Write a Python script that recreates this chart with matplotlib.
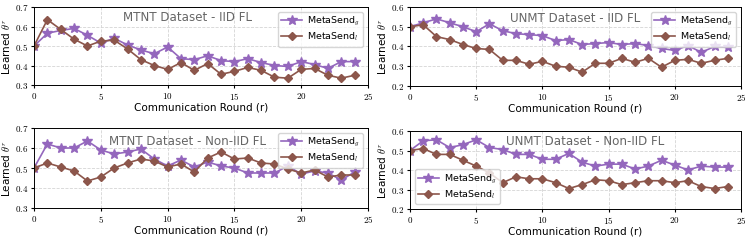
import matplotlib
matplotlib.use('agg')
import matplotlib.pyplot as plt
import numpy as np
from matplotlib.ticker import FuncFormatter

plt.rcParams['mathtext.fontset'] = 'cm'

rounds = np.arange(25)

mtnt_iid_g = [0.50, 0.565, 0.58, 0.59, 0.555, 0.515, 0.54, 0.505, 0.48, 0.46, 0.495, 0.435, 0.43,
              0.45, 0.425, 0.42, 0.435, 0.415, 0.40, 0.395, 0.42, 0.405, 0.385, 0.42, 0.42]
mtnt_iid_l = [0.50, 0.635, 0.585, 0.535, 0.50, 0.525, 0.53, 0.485, 0.43, 0.40, 0.38, 0.415, 0.375,
              0.41, 0.355, 0.37, 0.39, 0.375, 0.34, 0.335, 0.38, 0.385, 0.35, 0.335, 0.35]

unmt_iid_g = [0.50, 0.52, 0.54, 0.52, 0.50, 0.475, 0.515, 0.48, 0.465, 0.46, 0.455, 0.43, 0.435,
              0.41, 0.415, 0.42, 0.41, 0.415, 0.405, 0.39, 0.38, 0.405, 0.37, 0.40, 0.395]
unmt_iid_l = [0.50, 0.51, 0.45, 0.435, 0.41, 0.39, 0.385, 0.33, 0.33, 0.31, 0.325, 0.30, 0.295,
              0.27, 0.315, 0.315, 0.34, 0.32, 0.34, 0.295, 0.33, 0.335, 0.315, 0.33, 0.34]

mtnt_non_g = [0.50, 0.62, 0.60, 0.60, 0.635, 0.59, 0.57, 0.58, 0.595, 0.545, 0.51, 0.54, 0.505,
              0.53, 0.51, 0.50, 0.475, 0.475, 0.475, 0.51, 0.47, 0.485, 0.475, 0.44, 0.48]
mtnt_non_l = [0.50, 0.525, 0.505, 0.485, 0.435, 0.455, 0.50, 0.525, 0.545, 0.535, 0.505, 0.52, 0.48,
              0.55, 0.58, 0.545, 0.55, 0.525, 0.52, 0.495, 0.475, 0.49, 0.455, 0.465, 0.465]

unmt_non_g = [0.50, 0.55, 0.555, 0.515, 0.53, 0.555, 0.515, 0.505, 0.48, 0.48, 0.455, 0.455, 0.485,
              0.44, 0.42, 0.43, 0.43, 0.405, 0.42, 0.45, 0.425, 0.40, 0.42, 0.415, 0.415]
unmt_non_l = [0.50, 0.51, 0.48, 0.48, 0.45, 0.42, 0.385, 0.335, 0.365, 0.355, 0.355, 0.335, 0.305,
              0.325, 0.35, 0.345, 0.325, 0.335, 0.345, 0.345, 0.335, 0.345, 0.315, 0.305, 0.315]

panels = [
    ("MTNT Dataset - IID FL", mtnt_iid_g, mtnt_iid_l, (0.3, 0.7), (0.46, 0.87), 'upper right'),
    ("UNMT Dataset - IID FL", unmt_iid_g, unmt_iid_l, (0.2, 0.6), (0.50, 0.86), 'upper right'),
    ("MTNT Dataset - Non-IID FL", mtnt_non_g, mtnt_non_l, (0.3, 0.7), (0.46, 0.83), 'upper right'),
    ("UNMT Dataset - Non-IID FL", unmt_non_g, unmt_non_l, (0.2, 0.6), (0.53, 0.86), 'lower left'),
]

fig = plt.figure(figsize=(7.48, 2.42), dpi=100)
boxes = [
    [34 / 748, 1 - 85 / 242, 334 / 748, 78 / 242],
    [410 / 748, 1 - 86 / 242, 331 / 748, 79 / 242],
    [34 / 748, 1 - 208 / 242, 334 / 748, 80 / 242],
    [410 / 748, 1 - 209 / 242, 331 / 748, 78 / 242],
]

fmt = FuncFormatter(lambda v, p: "$%g$" % round(v, 2))

for box, (title, g, l, ylim, tpos, loc) in zip(boxes, panels):
    ax = fig.add_axes(box)
    ax.plot(rounds, g, color='#9467bd', marker='*', markersize=7.5, lw=1.2,
            label=r'MetaSend$_g$')
    ax.plot(rounds, l, color='#8c564b', marker='D', markersize=4.5, lw=1.2,
            label=r'MetaSend$_l$')
    ax.set_xlim(0, 25)
    ax.set_ylim(*ylim)
    ax.set_xticks([0, 5, 10, 15, 20, 25])
    ax.set_yticks(np.arange(ylim[0], ylim[1] + 0.01, 0.1))
    ax.xaxis.set_major_formatter(fmt)
    ax.yaxis.set_major_formatter(fmt)
    ax.tick_params(labelsize=6.5, length=2, pad=2)
    for s in ax.spines.values():
        s.set_linewidth(0.7)
    ax.grid(True, ls='--', color='#d5d5d5', lw=0.6)
    ax.set_xlabel('Communication Round (r)', fontsize=7.5, labelpad=1)
    ax.set_ylabel(r'Learned $\theta^r$', fontsize=7.5, labelpad=2)
    ax.text(tpos[0], tpos[1], title, transform=ax.transAxes, ha='center', va='center',
            fontsize=8.6, color='#666666')
    ax.legend(loc=loc, fontsize=6.8, handlelength=2.2, borderpad=0.35, labelspacing=0.25,
              handletextpad=0.5)

plt.savefig('out.png', dpi=100)
